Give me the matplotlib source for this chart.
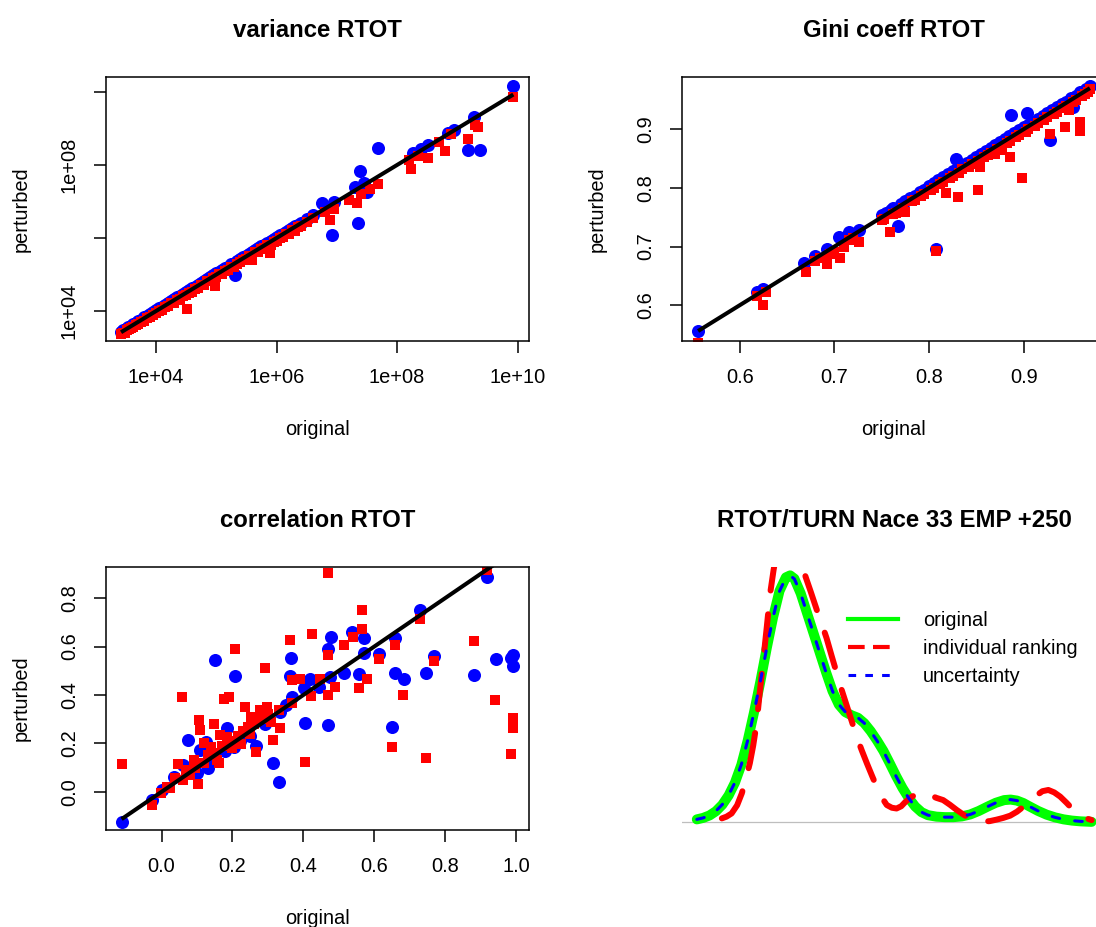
import numpy as np
import matplotlib
matplotlib.use('Agg')
import matplotlib.pyplot as plt
from matplotlib.lines import Line2D

matplotlib.rcParams['font.family'] = ['Liberation Sans', 'DejaVu Sans']
matplotlib.rcParams['font.size'] = 14.4

BLUE = '#0000FF'
RED = '#FF0000'
GREEN = '#00FF00'

# ============================================================
# variance RTOT  (values stored as log10)
# ============================================================
var_orig_blue = [3.42, 3.50, 3.58, 3.66, 3.75, 3.85, 3.95, 4.05, 4.15, 4.25, 4.35, 4.45,
                 4.55, 4.65, 4.75, 4.85, 4.95, 5.05, 5.15, 5.25, 5.31, 5.40, 5.50, 5.60,
                 5.70, 5.80, 5.90, 6.00, 6.10, 6.20, 6.30, 6.40, 6.75, 6.92, 6.95, 7.30,
                 7.39, 7.36, 7.50, 7.45, 7.69, 8.27, 8.40, 8.52, 8.85, 8.95, 9.18, 9.37,
                 9.27, 9.93,
                 3.46, 3.54, 3.62, 3.70, 3.80, 3.90, 4.00, 4.10, 4.20, 4.30, 4.40, 4.50,
                 4.60, 4.70, 4.80, 4.90, 5.00, 5.10, 5.20, 5.35, 5.45, 5.55, 5.65, 5.75,
                 5.85, 5.95, 6.05, 6.15, 6.25, 6.35, 6.50, 6.60]
var_pert_blue = [3.44, 3.52, 3.60, 3.68, 3.76, 3.87, 3.97, 4.08, 4.17, 4.27, 4.38, 4.47,
                 4.57, 4.67, 4.78, 4.88, 4.98, 5.07, 5.18, 5.28, 5.00, 5.43, 5.52, 5.62,
                 5.73, 5.82, 5.93, 6.02, 6.12, 6.22, 6.32, 6.42, 6.97, 6.08, 6.98, 7.40,
                 7.84, 6.42, 7.27, 7.52, 8.46, 8.32, 8.43, 8.55, 8.87, 8.97, 8.41, 8.41,
                 9.31, 10.15,
                 3.48, 3.57, 3.64, 3.72, 3.83, 3.92, 4.03, 4.12, 4.22, 4.33, 4.42, 4.53,
                 4.62, 4.72, 4.83, 4.92, 5.03, 5.12, 5.22, 5.37, 5.48, 5.57, 5.68, 5.77,
                 5.87, 5.98, 6.07, 6.17, 6.28, 6.37, 6.52, 6.63]
var_orig_red = [3.42, 3.48, 3.55, 3.62, 3.70, 3.80, 3.90, 4.00, 4.10, 4.20, 4.30, 4.40,
                4.51, 4.50, 4.60, 4.70, 4.80, 4.90, 4.98, 5.00, 5.10, 5.20, 5.30, 5.40,
                5.50, 5.59, 5.60, 5.70, 5.80, 5.89, 5.90, 6.00, 6.10, 6.20, 6.30, 6.40,
                6.80, 6.89, 6.95, 7.20, 7.33, 7.40, 7.55, 7.69, 8.20, 8.23, 8.35, 8.52,
                8.70, 8.79, 8.90, 9.18, 9.30, 9.35, 9.93,
                3.45, 3.52, 3.58, 3.66, 3.75, 3.85, 3.95, 4.05, 4.15, 4.25, 4.35, 4.45,
                4.55, 4.65, 4.75, 4.85, 4.95, 5.05, 5.15, 5.25, 5.35, 5.45, 5.55, 5.65,
                5.75, 5.85, 5.95, 6.05, 6.15, 6.25, 6.35, 6.50, 6.60]
var_pert_red = [3.38, 3.40, 3.50, 3.55, 3.65, 3.74, 3.85, 3.95, 4.04, 4.15, 4.22, 4.33,
                4.07, 4.44, 4.52, 4.62, 4.72, 4.82, 4.68, 4.93, 5.02, 5.12, 5.20, 5.33,
                5.42, 5.40, 5.52, 5.62, 5.72, 5.58, 5.82, 5.93, 6.02, 6.12, 6.20, 6.32,
                6.70, 6.49, 6.80, 7.05, 6.95, 7.20, 7.35, 7.48, 8.15, 7.88, 8.25, 8.18,
                8.62, 8.37, 8.85, 8.71, 9.10, 9.05, 9.87,
                3.41, 3.47, 3.54, 3.62, 3.70, 3.81, 3.90, 4.01, 4.10, 4.21, 4.30, 4.41,
                4.50, 4.61, 4.70, 4.81, 4.90, 5.01, 5.10, 5.21, 5.30, 5.41, 5.50, 5.61,
                5.70, 5.81, 5.90, 6.01, 6.10, 6.21, 6.30, 6.45, 6.55]

# ============================================================
# Gini coeff RTOT
# ============================================================
gini_orig_blue = [0.556, 0.618, 0.625, 0.668, 0.680, 0.692, 0.705, 0.715, 0.726, 0.755,
                  0.762, 0.767, 0.775, 0.785, 0.795, 0.805, 0.807, 0.815, 0.825, 0.829,
                  0.835, 0.845, 0.855, 0.865, 0.875, 0.887, 0.885, 0.895, 0.904, 0.905,
                  0.915, 0.925, 0.928, 0.935, 0.945, 0.955, 0.962, 0.970, 0.952,
                  0.750, 0.760, 0.770, 0.780, 0.790, 0.800, 0.810, 0.820, 0.830, 0.840,
                  0.850, 0.860, 0.870, 0.880, 0.890, 0.900, 0.910, 0.920, 0.930, 0.940,
                  0.950, 0.960, 0.966]
gini_pert_blue = [0.556, 0.622, 0.628, 0.672, 0.684, 0.695, 0.716, 0.725, 0.728, 0.758,
                  0.766, 0.735, 0.778, 0.787, 0.797, 0.808, 0.695, 0.818, 0.828, 0.849,
                  0.838, 0.848, 0.858, 0.868, 0.878, 0.924, 0.888, 0.898, 0.928, 0.908,
                  0.918, 0.928, 0.882, 0.938, 0.946, 0.956, 0.964, 0.973, 0.938,
                  0.753, 0.763, 0.773, 0.783, 0.793, 0.803, 0.813, 0.823, 0.833, 0.843,
                  0.853, 0.863, 0.873, 0.883, 0.893, 0.903, 0.913, 0.923, 0.933, 0.943,
                  0.953, 0.963, 0.969]
gini_orig_red = [0.556, 0.618, 0.625, 0.628, 0.670, 0.680, 0.692, 0.700, 0.706, 0.715,
                 0.726, 0.750, 0.759, 0.765, 0.775, 0.785, 0.795, 0.805, 0.807, 0.815,
                 0.818, 0.825, 0.831, 0.835, 0.845, 0.852, 0.854, 0.858, 0.865, 0.870,
                 0.877, 0.886, 0.886, 0.895, 0.898, 0.905, 0.915, 0.925, 0.928, 0.935,
                 0.944, 0.945, 0.955, 0.959, 0.959, 0.965, 0.970, 0.948,
                 0.752, 0.762, 0.772, 0.782, 0.792, 0.802, 0.812, 0.822, 0.832, 0.842,
                 0.852, 0.862, 0.872, 0.882, 0.892, 0.902, 0.912, 0.922, 0.932, 0.942,
                 0.952, 0.962, 0.968, 0.685, 0.695, 0.710, 0.720]
gini_pert_red = [0.535, 0.615, 0.600, 0.622, 0.656, 0.676, 0.671, 0.690, 0.680, 0.712,
                 0.708, 0.745, 0.724, 0.757, 0.759, 0.780, 0.790, 0.800, 0.693, 0.810,
                 0.791, 0.820, 0.785, 0.832, 0.840, 0.797, 0.835, 0.853, 0.860, 0.857,
                 0.864, 0.853, 0.880, 0.890, 0.817, 0.900, 0.910, 0.920, 0.891, 0.930,
                 0.904, 0.940, 0.950, 0.912, 0.897, 0.960, 0.968, 0.932,
                 0.747, 0.756, 0.766, 0.777, 0.786, 0.797, 0.806, 0.816, 0.826, 0.836,
                 0.846, 0.856, 0.866, 0.876, 0.886, 0.896, 0.906, 0.916, 0.926, 0.936,
                 0.946, 0.956, 0.963, 0.680, 0.688, 0.700, 0.715]

# ============================================================
# correlation RTOT
# ============================================================
cor_orig_blue = [-0.113, 0.919, 0.728, 0.537, 0.479, 0.471, 0.570, 0.570, 0.659, 0.615,
                 0.770, 0.882, 0.746, 0.683, 0.659, 0.943, 0.992, 0.986, 0.992, 0.650,
                 0.150, 0.206, 0.366, 0.361, 0.514, 0.556, 0.471, 0.405, 0.314, 0.330,
                 0.074, 0.185, 0.265, 0.368, 0.401, 0.443, 0.420, 0.476, 0.124, 0.108,
                 0.100, 0.060, 0.002, -0.026, 0.293, 0.335, 0.204, 0.035,
                 0.140, 0.180, 0.220, 0.250, 0.350, 0.130]
cor_pert_blue = [-0.124, 0.888, 0.751, 0.661, 0.641, 0.589, 0.636, 0.575, 0.636, 0.571,
                 0.562, 0.482, 0.489, 0.468, 0.489, 0.548, 0.565, 0.551, 0.519, 0.269,
                 0.544, 0.478, 0.551, 0.478, 0.489, 0.486, 0.278, 0.285, 0.117, 0.042,
                 0.214, 0.265, 0.190, 0.392, 0.427, 0.434, 0.468, 0.475, 0.207, 0.172,
                 0.076, 0.110, 0.007, -0.034, 0.282, 0.331, 0.186, 0.062,
                 0.140, 0.170, 0.210, 0.230, 0.360, 0.100]
cor_orig_red = [-0.113, 0.470, 0.567, 0.567, 0.539, 0.514, 0.424, 0.361, 0.206, 0.291,
                0.471, 0.659, 0.615, 0.770, 0.882, 0.728, 0.919, 0.681, 0.941, 0.992,
                0.992, 0.986, 0.746, 0.650, 0.405, 0.556, 0.581, 0.422, 0.471, 0.058,
                0.176, 0.190, 0.234, 0.105, 0.147, 0.107, 0.266, 0.314, 0.335, 0.103,
                0.045, -0.026, 0.368, 0.391, 0.448, 0.368, 0.298, 0.251, 0.166, 0.223,
                0.185, 0.138, 0.068, 0.016, 0.091, 0.157, 0.243, 0.279, 0.490, 0.162,
                -0.003, 0.039,
                0.080, 0.095, 0.120, 0.130, 0.150, 0.170, 0.190, 0.200, 0.215, 0.230,
                0.250, 0.260, 0.280, 0.300, 0.310, 0.330, 0.120, 0.060, 0.025]
cor_pert_red = [0.114, 0.905, 0.753, 0.671, 0.638, 0.606, 0.651, 0.629, 0.592, 0.510,
                0.565, 0.606, 0.548, 0.541, 0.624, 0.716, 0.916, 0.402, 0.379, 0.303,
                0.262, 0.155, 0.141, 0.186, 0.124, 0.427, 0.468, 0.395, 0.399, 0.392,
                0.385, 0.392, 0.351, 0.295, 0.282, 0.254, 0.165, 0.213, 0.264, 0.032,
                0.116, -0.055, 0.462, 0.468, 0.468, 0.365, 0.351, 0.310, 0.234, 0.199,
                0.226, 0.186, 0.088, 0.020, 0.130, 0.130, 0.268, 0.338, 0.434, 0.117,
                -0.007, 0.055,
                0.070, 0.100, 0.120, 0.150, 0.160, 0.190, 0.210, 0.180, 0.230, 0.250,
                0.240, 0.280, 0.300, 0.320, 0.290, 0.340, 0.200, 0.050, 0.015]

# ============================================================
# RTOT/TURN Nace 33 EMP +250 : density curves
# ============================================================
dens_x_orig = [0.035, 0.050, 0.065, 0.080, 0.095, 0.110, 0.125, 0.140, 0.155, 0.170,
               0.185, 0.200, 0.215, 0.230, 0.245, 0.255, 0.265, 0.280, 0.295, 0.310,
               0.325, 0.340, 0.355, 0.370, 0.385, 0.400, 0.415, 0.430, 0.445, 0.460,
               0.475, 0.490, 0.505, 0.520, 0.535, 0.550, 0.565, 0.580, 0.600, 0.620,
               0.640, 0.660, 0.680, 0.700, 0.720, 0.740, 0.760, 0.775, 0.790, 0.805,
               0.820, 0.840, 0.860, 0.880, 0.900, 0.920, 0.940, 0.966]
dens_y_orig = [0.011, 0.017, 0.027, 0.044, 0.070, 0.108, 0.160, 0.232, 0.330, 0.445,
               0.570, 0.705, 0.830, 0.935, 0.990, 0.998, 0.985, 0.925, 0.845, 0.765,
               0.685, 0.605, 0.530, 0.475, 0.445, 0.432, 0.422, 0.400, 0.368, 0.330,
               0.288, 0.238, 0.186, 0.138, 0.097, 0.063, 0.040, 0.028, 0.022, 0.020,
               0.020, 0.023, 0.031, 0.045, 0.062, 0.078, 0.089, 0.091, 0.087, 0.077,
               0.063, 0.045, 0.030, 0.019, 0.011, 0.006, 0.003, 0.001]
dens_x_unc = [0.035, 0.050, 0.065, 0.080, 0.095, 0.110, 0.125, 0.140, 0.155, 0.170,
              0.185, 0.200, 0.215, 0.230, 0.245, 0.255, 0.265, 0.280, 0.295, 0.310,
              0.325, 0.340, 0.355, 0.370, 0.385, 0.400, 0.415, 0.430, 0.445, 0.460,
              0.475, 0.490, 0.505, 0.520, 0.535, 0.550, 0.565, 0.580, 0.600, 0.620,
              0.640, 0.660, 0.680, 0.700, 0.720, 0.740, 0.760, 0.775, 0.790, 0.805,
              0.820, 0.840, 0.860, 0.880, 0.900, 0.920, 0.940, 0.966]
dens_y_unc = [0.011, 0.017, 0.027, 0.045, 0.071, 0.109, 0.161, 0.233, 0.331, 0.446,
              0.571, 0.706, 0.830, 0.934, 0.989, 0.997, 0.984, 0.924, 0.844, 0.764,
              0.684, 0.604, 0.530, 0.476, 0.446, 0.433, 0.422, 0.400, 0.367, 0.329,
              0.287, 0.237, 0.185, 0.137, 0.096, 0.062, 0.040, 0.028, 0.022, 0.020,
              0.020, 0.023, 0.031, 0.045, 0.062, 0.078, 0.089, 0.091, 0.087, 0.077,
              0.063, 0.045, 0.030, 0.019, 0.011, 0.006, 0.003, 0.001]
dens_x_rank = [0.094, 0.105, 0.117, 0.130, 0.141, 0.150, 0.160, 0.168, 0.176, 0.184,
               0.192, 0.200, 0.208, 0.216, 0.223, 0.231, 0.239, 0.247, 0.255, 0.263,
               0.271, 0.280, 0.290, 0.304, 0.318, 0.330, 0.341, 0.353, 0.365, 0.376,
               0.388, 0.400, 0.412, 0.424, 0.436, 0.448, 0.459, 0.471, 0.483, 0.495,
               0.506, 0.517, 0.527, 0.540, 0.555, 0.565, 0.575, 0.585, 0.600, 0.616,
               0.632, 0.648, 0.664, 0.679, 0.695, 0.711, 0.726, 0.742, 0.758, 0.774,
               0.790, 0.805, 0.820, 0.837, 0.850, 0.864, 0.878, 0.892, 0.907, 0.923,
               0.935, 0.946, 0.966]
dens_y_rank = [0.015, 0.022, 0.035, 0.068, 0.116, 0.170, 0.238, 0.310, 0.400, 0.534,
               0.660, 0.790, 0.926, 1.020, 1.088, 1.140, 1.168, 1.185, 1.190, 1.178,
               1.156, 1.090, 1.000, 0.930, 0.858, 0.800, 0.744, 0.672, 0.602, 0.538,
               0.474, 0.410, 0.345, 0.290, 0.238, 0.188, 0.143, 0.100, 0.069, 0.058,
               0.055, 0.064, 0.082, 0.100, 0.116, 0.120, 0.117, 0.109, 0.098, 0.089,
               0.070, 0.049, 0.030, 0.015, 0.006, 0.002, 0.004, 0.010, 0.017, 0.026,
               0.042, 0.062, 0.082, 0.109, 0.125, 0.130, 0.120, 0.103, 0.078, 0.049,
               0.035, 0.020, 0.008]

legend_labels = ['original', 'individual ranking', 'uncertainty']

# ============================================================
# 2 x 2 layout, R base-graphics look
# ============================================================
W, H = 1096, 927
fig = plt.figure(figsize=(W / 100, H / 100), dpi=100)


def px_axes(left, top, width, height):
    return fig.add_axes([left / W, 1 - (top + height) / H, width / W, height / H])


def r_style(ax, title):
    for s in ax.spines.values():
        s.set_linewidth(1.1)
    ax.tick_params(direction='out', length=8.5, width=1.1, pad=11, labelsize=14.4)
    ax.set_title(title, fontsize=17.3, fontweight='bold', pad=29)
    ax.set_xlabel('original', labelpad=24)
    ax.set_ylabel('perturbed', labelpad=21)
    plt.setp(ax.get_yticklabels(), rotation=90, va='center')


def scatter_pair(ax, xb, yb, xr, yr):
    ax.plot(xb, yb, 'o', color=BLUE, ms=9.4, mew=0)
    ax.plot(xr, yr, 's', color=RED, ms=7.9, mew=0)
    lo, hi = min(xb + xr), max(xb + xr)
    ax.plot([lo, hi], [lo, hi], color='black', lw=2.9, solid_capstyle='butt')


# --- top left: variance ---
ax1 = px_axes(106, 77, 423, 264)
vxb = list(10 ** np.array(var_orig_blue))
vyb = list(10 ** np.array(var_pert_blue))
vxr = list(10 ** np.array(var_orig_red))
vyr = list(10 ** np.array(var_pert_red))
scatter_pair(ax1, vxb, vyb, vxr, vyr)
ax1.set_xscale('log')
ax1.set_yscale('log')
ax1.set_xlim(10 ** 3.17, 10 ** 10.19)
ax1.set_ylim(10 ** 3.18, 10 ** 10.41)
ax1.set_xticks([1e4, 1e6, 1e8, 1e10])
ax1.set_xticklabels(['1e+04', '1e+06', '1e+08', '1e+10'])
ax1.set_yticks([1e4, 1e6, 1e8, 1e10])
ax1.set_yticklabels(['1e+04', '', '1e+08', ''])
ax1.minorticks_off()
r_style(ax1, 'variance RTOT')

# --- top right: Gini ---
ax2 = px_axes(682, 77, 424, 264)
scatter_pair(ax2, gini_orig_blue, gini_pert_blue, gini_orig_red, gini_pert_red)
ax2.set_xlim(0.539, 0.987)
ax2.set_ylim(0.539, 0.989)
ax2.set_xticks([0.6, 0.7, 0.8, 0.9])
ax2.set_yticks([0.6, 0.7, 0.8, 0.9])
r_style(ax2, 'Gini coeff RTOT')

# --- bottom left: correlation ---
ax3 = px_axes(106, 567, 423, 263)
scatter_pair(ax3, cor_orig_blue, cor_pert_blue, cor_orig_red, cor_pert_red)
ax3.set_xlim(-0.157, 1.037)
ax3.set_ylim(-0.158, 0.929)
ax3.set_xticks([0.0, 0.2, 0.4, 0.6, 0.8, 1.0])
ax3.set_xticklabels(['0.0', '0.2', '0.4', '0.6', '0.8', '1.0'])
ax3.set_yticks([0.0, 0.2, 0.4, 0.6, 0.8])
ax3.set_yticklabels(['0.0', '0.2', '0.4', '0.6', '0.8'])
r_style(ax3, 'correlation RTOT')

# --- bottom right: densities ---
ax4 = px_axes(682, 567, 424, 263)
ax4.axhline(0, color='#BEBEBE', lw=0.9)
ax4.plot(dens_x_orig, dens_y_orig, color=GREEN, lw=7.2, solid_capstyle='round')
ax4.plot(dens_x_rank, dens_y_rank, color=RED, lw=4.3, linestyle=(0, (6, 4)),
         dash_capstyle='round')
ax4.plot(dens_x_unc, dens_y_unc, color=BLUE, lw=2.2, linestyle=(0, (2.5, 5)),
         dash_capstyle='round')
ax4.set_xlim(0, 1)
ax4.set_ylim(-0.032, 1.032)
ax4.axis('off')
ax4.set_title('RTOT/TURN Nace 33 EMP +250', fontsize=17.3, fontweight='bold', pad=29)

handles = [Line2D([], [], color=GREEN, lw=3),
           Line2D([], [], color=RED, lw=3, linestyle=(0, (4, 2))),
           Line2D([], [], color=BLUE, lw=2.2, linestyle=(0, (2.5, 3)))]
fig.legend(handles, legend_labels, loc='upper left',
           bbox_to_anchor=(848 / W, 1 - 611 / H), bbox_transform=fig.transFigure,
           frameon=False, borderpad=0, borderaxespad=0, handlelength=2.5,
           handletextpad=1.25, labelspacing=0.45, fontsize=14.4)

fig.savefig('out.png', dpi=100, facecolor='white')
